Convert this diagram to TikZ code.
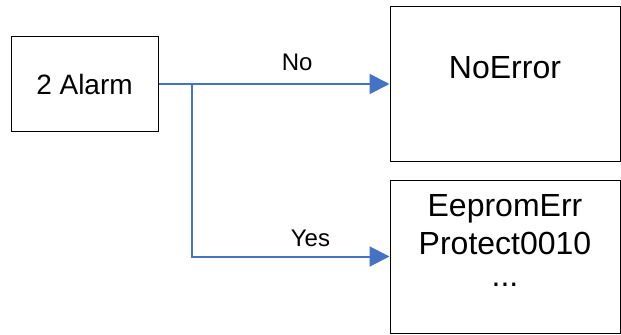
\documentclass[tikz,border=0pt]{standalone}
\usepackage{fontspec}
\setmainfont{Liberation Sans}
\usetikzlibrary{arrows.meta,calc}
\definecolor{linkblue}{HTML}{4472C4}

\begin{document}
\begin{tikzpicture}[
	x=0.75pt, y=-0.75pt,
	box/.style={
		draw,
		line width=0.75pt,
		inner sep=0pt
	},
	boxtext/.style={anchor=north, inner sep=0pt, align=center, font=\fontsize{24}{28.5}\selectfont},
	link/.style={draw=linkblue, line width=1.5pt, -{Triangle[length=15pt, width=15pt]}},
	answer/.style={anchor=base, inner sep=0pt, font=\fontsize{18}{21}\selectfont}
]
\useasboundingbox (0,0) rectangle (621,335);

\node[box, minimum width=110.25pt, minimum height=70.5pt, font=\fontsize{21}{25}\selectfont] (alarm) at (84.5,84) {2 Alarm};
\node[box, minimum width=172.5pt, minimum height=115.5pt,
	label={[boxtext, yshift=-37.5pt]north:NoError}] (noerr) at (505,84) {};
\node[box, minimum width=172.5pt, minimum height=114.75pt,
	label={[boxtext, yshift=-11.25pt]north:{EepromErr\\Protect0010\\[-4.5pt]...}}] (eeprom) at (505,256.5) {};

\coordinate (split) at ($(alarm.east)+(25pt,0)$);

\draw[link] (alarm.east) -- node[answer, pos=0.6, yshift=10.5pt] {No} (noerr.west);
\draw[link] (split) |- node[answer, pos=0.8, yshift=7.5pt] {Yes} (eeprom.west);
\end{tikzpicture}
\end{document}
